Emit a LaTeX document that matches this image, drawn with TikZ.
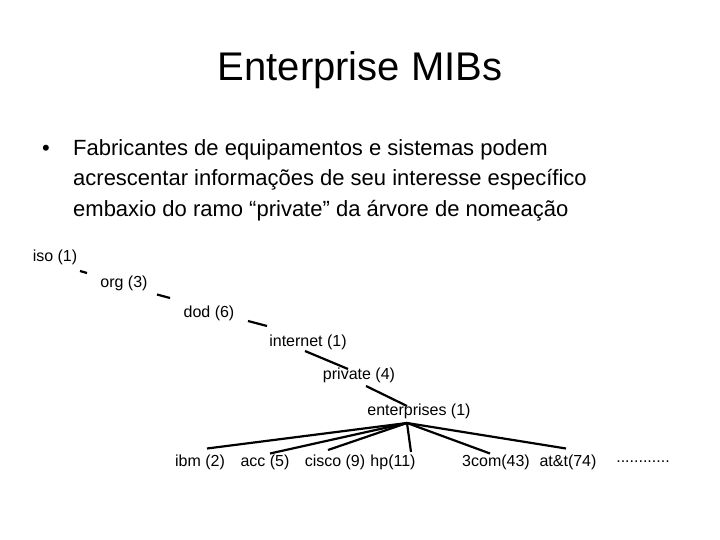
\documentclass[tikz,border=0pt]{standalone}
\usepackage{fontspec}
\setmainfont{Liberation Sans}
\begin{document}
\begin{tikzpicture}[x=1pt,y=-1pt,
  lab/.style={inner sep=0pt,font=\fontsize{16}{18}\selectfont},
  edge/.style={line width=2.2pt}]
\useasboundingbox (0,0) rectangle (720,540);
\node[inner sep=0pt,font=\fontsize{40}{44}\selectfont] (title) at (360,70) {Enterprise MIBs};
\node[inner sep=0pt,font=\fontsize{22}{26}\selectfont] (bul) at (46,150) {•};
\node[inner sep=0pt,anchor=west,align=left,font=\fontsize{22}{30.5}\selectfont] (txt) at (73,180)
 {Fabricantes de equipamentos e sistemas podem\\acrescentar informações de seu interesse específico\\embaxio do ramo “private” da árvore de nomeação};
\node[lab] (iso) at (55,257) {iso (1)};
\node[lab] (org) at (124,283) {org (3)};
\node[lab] (dod) at (209,313) {dod (6)};
\node[lab] (inet) at (308,342) {internet (1)};
\node[lab] (priv) at (359,375) {private (4)};
\node[lab] (ent) at (419,411) {enterprises (1)};
\node[lab] (ibm) at (200,462) {ibm (2)};
\node[lab] (acc) at (265,462) {acc (5)};
\node[lab] (cisco) at (335,462) {cisco (9)};
\node[lab] (hp) at (393,462) {hp(11)};
\node[lab] (tcom) at (496,462) {3com(43)};
\node[lab] (att) at (568,462) {at\&t(74)};
\node[lab] (dots) at (643,462) {............};
\coordinate (a1) at (80,271); \coordinate (a2) at (87,273);
\coordinate (b1) at (157,294.5); \coordinate (b2) at (170,298);
\coordinate (c1) at (248,321); \coordinate (c2) at (267,326);
\coordinate (d1) at (305,351); \coordinate (d2) at (348,369);
\coordinate (e1) at (366,386); \coordinate (e2) at (407,406);
\coordinate (hub) at (407,423);
\coordinate (kibm) at (207,448.5); \coordinate (kacc) at (270,453.5);
\coordinate (kcis) at (328,450); \coordinate (khp) at (411,452);
\coordinate (k3c) at (490,453.5); \coordinate (katt) at (566,448.5);
\draw[edge] (a1) -- (a2);
\draw[edge] (b1) -- (b2);
\draw[edge] (c1) -- (c2);
\draw[edge] (d1) -- (d2);
\draw[edge] (e1) -- (e2);
\foreach \k in {kibm,kacc,kcis,khp,k3c,katt} \draw[edge] (hub) -- (\k);
\end{tikzpicture}
\end{document}
